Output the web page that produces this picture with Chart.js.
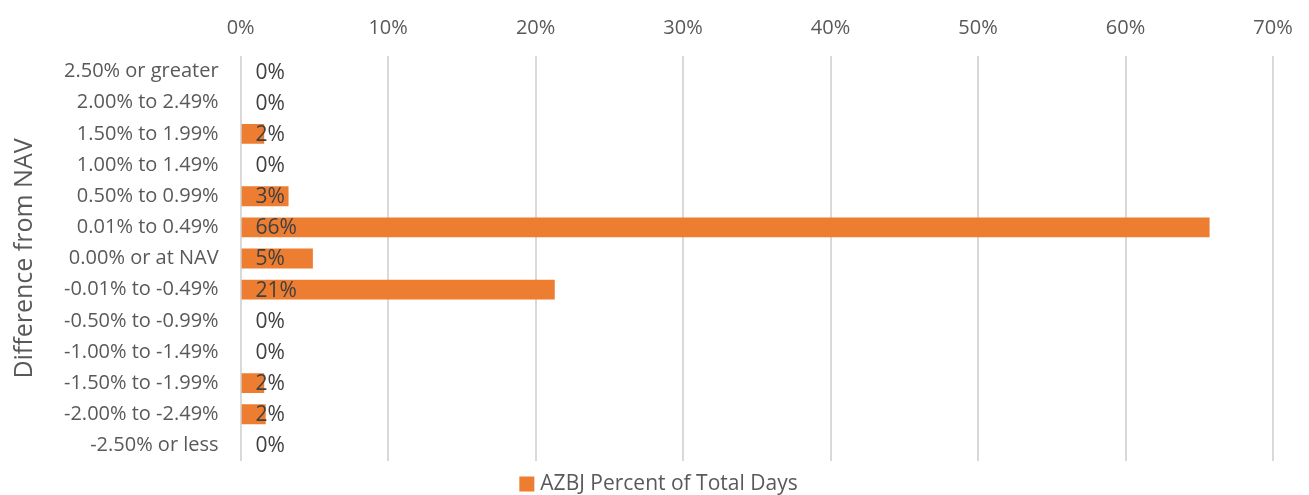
<!DOCTYPE html>
<html>
<head>
<meta charset="utf-8">
<script src="https://cdn.jsdelivr.net/npm/chart.js@4"></script>
<style>
  html, body { margin: 0; padding: 0; background: #fff; }
  canvas { display: block; }
</style>
</head>
<body>
<canvas id="navChart" width="1309" height="495"></canvas>
<script>
var categories = ['2.50% or greater', '2.00% to 2.49%', '1.50% to 1.99%', '1.00% to 1.49%',
  '0.50% to 0.99%', '0.01% to 0.49%', '0.00% or at NAV', '-0.01% to -0.49%', '-0.50% to -0.99%',
  '-1.00% to -1.49%', '-1.50% to -1.99%', '-2.00% to -2.49%', '-2.50% or less'];
var percentOfDays = [0, 0, 1.6, 0, 3.25, 65.7, 4.9, 21.3, 0, 0, 1.6, 1.7, 0];
var seriesName = 'AZBJ Percent of Total Days';

var textColor = '#595959';
var fontFamily = "'Open Sans', 'Liberation Sans', sans-serif";

// draw value labels at the inside base of each bar, like excel does
var baseLabels = {
  id: 'baseLabels',
  afterDatasetsDraw: function(chart) {
    var ctx = chart.ctx, xs = chart.scales.x;
    var meta = chart.getDatasetMeta(0);
    ctx.save();
    ctx.font = '21px ' + fontFamily;
    ctx.fillStyle = '#404040';
    ctx.textAlign = 'left';
    ctx.textBaseline = 'middle';
    meta.data.forEach(function(bar, i) {
      ctx.fillText(Math.round(percentOfDays[i]) + '%', xs.getPixelForValue(0) + 15, bar.y + 1);
    });
    ctx.restore();
  }
};

// built-in legend leaves slack under the text, so draw the one entry ourselves
var bottomLegend = {
  id: 'bottomLegend',
  afterDraw: function(chart) {
    var ctx = chart.ctx;
    var ds = chart.data.datasets[0];
    ctx.save();
    ctx.font = '21px ' + fontFamily;
    var tw = ctx.measureText(ds.label).width;
    var box = 15, gap = 6;
    var x0 = chart.width / 2 - (box + gap + tw) / 2 + 4;
    var cy = chart.height - 11;
    ctx.fillStyle = ds.backgroundColor;
    ctx.fillRect(x0, cy - box / 2, box, box);
    ctx.fillStyle = textColor;
    ctx.textAlign = 'left';
    ctx.textBaseline = 'middle';
    ctx.fillText(ds.label, x0 + box + gap, cy);
    ctx.restore();
  }
};

var navChart = new Chart(document.getElementById('navChart').getContext('2d'), {
  type: 'bar',
  data: {
    labels: categories,
    datasets: [{
      label: seriesName,
      data: percentOfDays,
      backgroundColor: '#ED7D31',
      borderWidth: 0,
      categoryPercentage: 0.64,
      barPercentage: 1.0
    }]
  },
  options: {
    indexAxis: 'y',
    responsive: false,
    animation: false,
    layout: { padding: { left: 10, right: 36, top: 0, bottom: 30 } },
    plugins: {
      legend: { display: false },
      tooltip: { enabled: false }
    },
    scales: {
      x: {
        position: 'top',
        min: 0, max: 70,
        ticks: {
          stepSize: 10,
          color: textColor,
          font: { family: fontFamily, size: 20 },
          padding: 16,
          callback: function(v) { return v + '%'; }
        },
        grid: { color: '#d9d9d9', lineWidth: 2, drawTicks: false },
        border: { display: false }
      },
      y: {
        ticks: {
          color: textColor,
          font: { family: fontFamily, size: 20 },
          padding: 22,
          autoSkip: false
        },
        grid: { display: false, drawTicks: false },
        border: { display: false },
        title: {
          display: true,
          text: 'Difference from NAV',
          color: textColor,
          font: { family: fontFamily, size: 25 },
          padding: { top: 0, bottom: 2 }
        }
      }
    }
  },
  plugins: [baseLabels, bottomLegend]
});
</script>
</body>
</html>
